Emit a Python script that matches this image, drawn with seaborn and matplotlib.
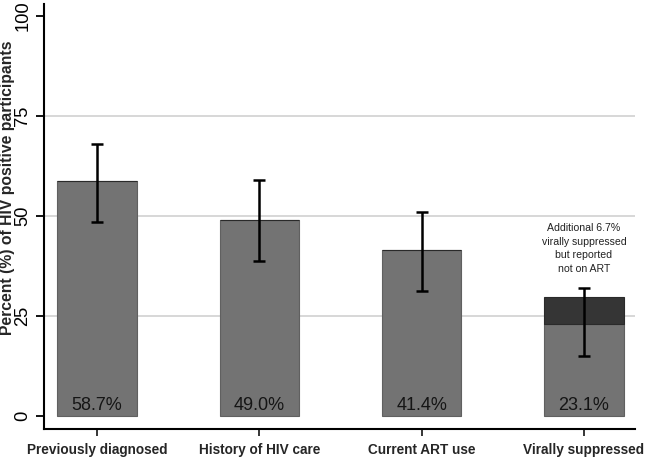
import matplotlib.pyplot as plt
import matplotlib.ticker as ticker
import numpy as np
import pandas as pd
import seaborn as sns

# Data
categories = ["Previously diagnosed", "History of HIV care", "Current ART use", "Virally suppressed"]
percent = [58.7, 49.0, 41.4, 23.1]
ci_low = [48.5, 38.8, 31.3, 15.0]
ci_high = [68.1, 58.9, 51.1, 32.0]
extra_suppressed = [0.0, 0.0, 0.0, 6.7]
bar_labels = ["58.7%", "49.0%", "41.4%", "23.1%"]
note_text = "Additional 6.7%\nvirally suppressed\nbut reported\nnot on ART"


def plot_cascade():
  sns.set_style("white")
  plt.rcParams["font.family"] = ["Liberation Sans", "DejaVu Sans"]

  df = pd.DataFrame({"category": categories, "percent": percent})

  fig = plt.figure(figsize=(6.45, 4.57), dpi=100)
  ax = fig.add_axes([44 / 645, 28 / 457, 591 / 645, 425 / 457])

  # light grid lines behind the bars
  for yv in (25, 50, 75):
    ax.axhline(yv, color="#d4d4d4", lw=1.3, zorder=0)

  sns.barplot(
      data=df,
      x="category",
      y="percent",
      ax=ax,
      color="#737373",
      saturation=1,
      width=0.49,
      edgecolor="#606060",
      linewidth=0.8,
      errorbar=None,
      zorder=2
  )

  # dark segment on top of the last bar
  xs = np.arange(len(categories))
  ax.bar(xs, extra_suppressed, bottom=percent, width=0.49,
         color="#353535", edgecolor="#2a2a2a", linewidth=0.8, zorder=2)

  # confidence intervals
  yerr = [np.array(percent) - np.array(ci_low), np.array(ci_high) - np.array(percent)]
  ax.errorbar(xs, percent, yerr=yerr, fmt="none", ecolor="black",
              elinewidth=1.8, capsize=4, capthick=1.8, zorder=4)

  # value labels at the bottom of the bars
  for x, lab in zip(xs, bar_labels):
    ax.text(x, 2.5, lab, ha="center", va="center", fontsize=13, color="#151515", zorder=5)

  ax.text(3, 41.9, note_text, ha="center", va="center", fontsize=7.6,
          color="#222222", linespacing=1.45)

  # Axes Configuration
  ax.set_xlim(-0.327, 3.315)
  ax.set_ylim(-3.25, 103)
  ax.yaxis.set_major_locator(ticker.FixedLocator([0, 25, 50, 75, 100]))
  ax.set_ylabel("")
  fig.text(8 / 645, 1 - 188 / 457, "Percent (%) of HIV positive participants",
           rotation=90, ha="center", va="center", fontsize=11.3, fontweight="bold")
  ax.set_xlabel("")
  ax.tick_params(axis="y", labelsize=13.2, rotation=90, length=6, width=1.3, pad=3,
                 left=True, colors="black")
  for lab in ax.get_yticklabels():
    lab.set_va("center")
  ax.tick_params(axis="x", labelsize=9.8, length=5, width=1.3, pad=5, bottom=True)
  for lab in ax.get_xticklabels():
    lab.set_fontweight("bold")

  sns.despine(ax=ax)
  for side in ("left", "bottom"):
    ax.spines[side].set_linewidth(1.5)
    ax.spines[side].set_color("black")

  fig.savefig("out.png", dpi=100)
  plt.close(fig)


def main():
  plot_cascade()


if __name__ == "__main__":
  main()
